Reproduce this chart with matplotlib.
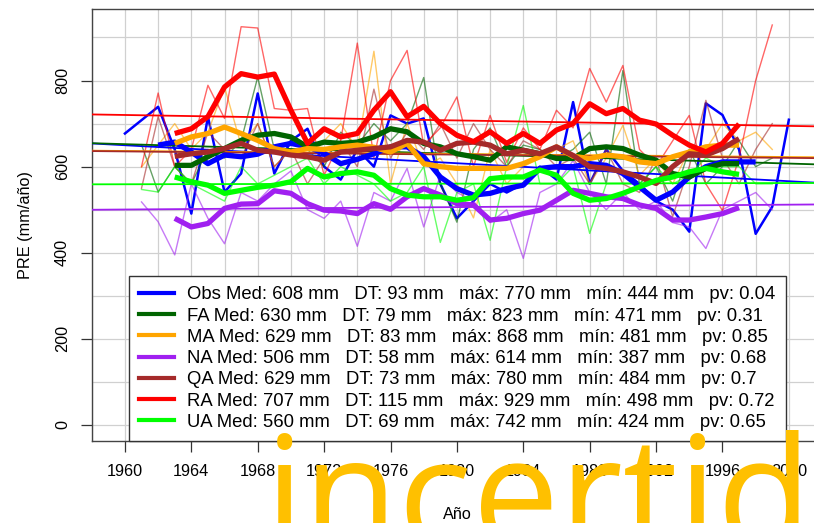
import numpy as np
import matplotlib
matplotlib.use("Agg")
import matplotlib.pyplot as plt
from matplotlib.lines import Line2D

# years
years_obs = np.arange(1960, 2001)
years_mod = np.arange(1961, 2000)
years_obs_ma = np.arange(1962, 1999)
years_mod_ma = np.arange(1963, 1998)

# annual precipitation (mm/año)
obs = [677, 708, 739, 640, 491, 716, 541, 584, 770, 584,
       660, 688, 600, 570, 640, 600, 719, 700, 712, 560,
       480, 520, 560, 540, 560, 600, 570, 750, 560, 640,
       590, 560, 520, 500, 449, 747, 720, 640, 444, 507, 709]
fa = [651, 541, 600, 560, 640, 620, 660, 808, 640, 660,
      640, 600, 680, 650, 700, 660, 700, 807, 560, 471,
      640, 690, 600, 650, 640, 620, 640, 680, 560, 823,
      560, 600, 520, 640, 560, 600, 660, 600, 620]
ma = [599, 650, 700, 640, 680, 785, 650, 700, 600, 640,
      620, 660, 700, 640, 868, 560, 700, 600, 620, 560,
      481, 640, 560, 600, 620, 640, 660, 560, 620, 696,
      580, 620, 560, 640, 640, 700, 660, 680, 640]
na = [518, 472, 395, 560, 480, 421, 540, 520, 560, 590,
      500, 480, 520, 415, 540, 520, 596, 460, 580, 540,
      520, 470, 500, 387, 540, 560, 614, 540, 500, 540,
      500, 520, 470, 460, 410, 500, 520, 540, 500]
qa = [550, 716, 600, 560, 680, 640, 620, 700, 600, 640,
      560, 620, 660, 600, 780, 620, 680, 640, 700, 620,
      700, 640, 600, 660, 640, 600, 620, 560, 640, 560,
      540, 620, 484, 600, 754, 620, 560, 640, 700]
ra = [600, 771, 600, 640, 789, 712, 925, 922, 735, 731,
      735, 580, 661, 887, 620, 800, 870, 650, 690, 762,
      600, 719, 610, 690, 640, 731, 690, 828, 750, 835,
      640, 600, 660, 719, 560, 498, 620, 800, 929]
ua = [547, 541, 600, 560, 540, 520, 600, 560, 580, 600,
      620, 560, 600, 580, 560, 520, 540, 600, 424, 540,
      560, 429, 600, 742, 560, 560, 600, 445, 560, 560,
      560, 600, 560, 580, 620, 600, 600, 560, 560]

# running means (thick lines)
obs_ma = [650, 657, 634, 607, 627, 623, 629, 646, 654, 646,
          631, 607, 617, 630, 646, 646, 623, 576, 549, 534,
          538, 549, 557, 596, 600, 600, 607, 603, 584, 553,
          522, 541, 576, 600, 611, 611, 611]
fa_ma = [603, 603, 623, 642, 661, 673, 677, 669, 646, 657,
         654, 657, 669, 688, 681, 654, 646, 630, 623, 615,
         646, 638, 630, 619, 619, 642, 646, 642, 627, 615,
         584, 576, 596, 607, 607]
ma_ma = [654, 669, 677, 692, 677, 661, 642, 634, 642, 640,
         646, 650, 645, 634, 654, 607, 600, 596, 596, 596,
         596, 607, 623, 646, 624, 619, 627, 623, 611, 607,
         623, 634, 646, 650, 650]
na_ma = [480, 460, 468, 503, 513, 514, 544, 538, 514, 499,
         497, 491, 514, 501, 530, 549, 534, 514, 511, 476,
         480, 491, 499, 522, 545, 538, 530, 526, 511, 503,
         476, 476, 483, 491, 505]
qa_ma = [624, 630, 634, 642, 654, 638, 634, 627, 623, 615,
         634, 638, 642, 646, 661, 657, 638, 654, 657, 650,
         630, 638, 630, 646, 626, 600, 596, 588, 576, 561,
         600, 630, 627, 642, 665]
ra_ma = [677, 688, 716, 785, 816, 808, 815, 731, 654, 688,
         669, 677, 731, 774, 716, 740, 700, 673, 658, 681,
         654, 677, 654, 685, 700, 746, 723, 735, 708, 699,
         673, 650, 634, 654, 699]
ua_ma = [576, 565, 557, 538, 545, 552, 557, 565, 596, 576,
         584, 588, 580, 549, 534, 530, 530, 522, 528, 572,
         576, 576, 592, 580, 538, 522, 526, 538, 553, 568,
         576, 588, 596, 588, 582]

# linear trends: value at left and right edge of the panel
trend_x = [1958.43, 2001.04]
trend_left = [653, 654, 637, 500, 636, 721, 559]
trend_right = [564, 606, 622, 512, 620, 694, 562]

# legend statistics
names = ["Obs", "FA", "MA", "NA", "QA", "RA", "UA"]
med = [608, 630, 629, 506, 629, 707, 560]
dt = [93, 79, 83, 58, 73, 115, 69]
vmax = [770, 823, 868, 614, 780, 929, 742]
vmin = [444, 471, 481, 387, 484, 498, 424]
pv = ["0.04", "0.31", "0.85", "0.68", "0.7", "0.72", "0.65"]

colors = ["#0000FF", "#006400", "#FFA500", "#A020F0", "#A52A2A", "#FF0000", "#00FF00"]

plt.rcParams['font.family'] = ['Liberation Sans', 'DejaVu Sans']

fig = plt.figure(figsize=(8.14, 5.23), dpi=100)
ax = fig.add_axes([0.1127, 0.1568, 0.8972, 0.826])

annual = [obs, fa, ma, na, qa, ra, ua]
smooth = [obs_ma, fa_ma, ma_ma, na_ma, qa_ma, ra_ma, ua_ma]

for i, vals in enumerate(annual):
    if i == 0:
        ax.plot(years_obs, vals, color=colors[i], lw=1.8, zorder=3)
    else:
        ax.plot(years_mod, vals, color=colors[i], lw=1.0, alpha=0.6, zorder=3)

for i in range(len(names)):
    ax.axline((trend_x[0], trend_left[i]), (trend_x[1], trend_right[i]),
              color=colors[i], lw=1.3, zorder=4)

for i, vals in enumerate(smooth):
    xs = years_obs_ma if i == 0 else years_mod_ma
    ax.plot(xs, vals, color=colors[i], lw=3.8, solid_capstyle='butt', zorder=5)

ax.set_xlim(1958.43, 2001.52)
ax.set_ylim(-37.16, 966.16)
ax.set_xticks(np.arange(1960, 2001, 4))
ax.set_yticks(np.arange(0, 801, 200))
ax.set_xticks(np.arange(1958, 2003, 2), minor=True)
ax.set_yticks(np.arange(0, 1000, 100), minor=True)
ax.grid(which='both', color='#D0D0D0', lw=0.9, zorder=0)
ax.tick_params(which='minor', length=0)
ax.tick_params(which='major', length=7.7, width=0.9, color='#333333',
               labelsize=11.7, pad=9)
ax.tick_params(axis='y', labelrotation=90, pad=8)
for lab in ax.get_yticklabels():
    lab.set_va('center')
for sp in ax.spines.values():
    sp.set_color('#444444')
    sp.set_linewidth(1.0)

ax.set_ylabel("PRE (mm/año)", fontsize=11.7)
ax.yaxis.set_label_coords(-0.08, 0.5)
ax.set_xlabel("Año", fontsize=11.7)
ax.xaxis.set_label_coords(0.5, -0.153)

handles = [Line2D([], [], color=c, lw=3) for c in colors]
labels = [f"{n} Med: {m} mm   DT: {d} mm   máx: {a} mm   mín: {b} mm   pv: {p}"
          for n, m, d, a, b, p in zip(names, med, dt, vmax, vmin, pv)]
leg = ax.legend(handles, labels, loc='lower left', bbox_to_anchor=(0.0511, 0.0),
                fontsize=13.3, frameon=True, fancybox=False, framealpha=1,
                edgecolor='#333333', borderaxespad=0, borderpad=0.55,
                labelspacing=0.23, handlelength=1.9, handletextpad=0.7)
leg.get_frame().set_linewidth(1.0)
leg.set_zorder(10)

fig.text(264.4 / 814, (523 - 548) / 523, "incertid", color="#FFC000",
         fontsize=111.6, family=['Open Sans', 'DejaVu Sans'],
         ha='left', va='baseline', zorder=20)

fig.savefig("out.png", dpi=100)
